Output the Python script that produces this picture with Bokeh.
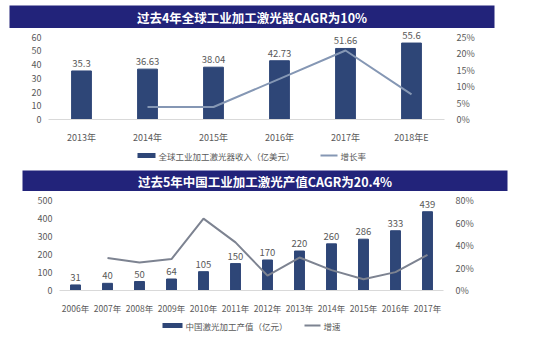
from bokeh.plotting import figure
from bokeh.models import (FactorRange, Range1d, LinearAxis, ColumnDataSource,
                          LabelSet, FixedTicker, PrintfTickFormatter)
from bokeh.core.properties import value
from bokeh.layouts import column
from bokeh.embed import file_html
from bokeh.resources import INLINE

# ---------------- data ----------------
title1 = "过去4年全球工业加工激光器CAGR为10%"
years1 = ["2013年", "2014年", "2015年", "2016年", "2017年", "2018年E"]
revenue1 = [35.3, 36.63, 38.04, 42.73, 51.66, 55.6]
revenue1_labels = ["35.3", "36.63", "38.04", "42.73", "51.66", "55.6"]
growth1_years = ["2014年", "2015年", "2016年", "2017年", "2018年E"]
growth1 = [3.8, 3.8, 12.3, 20.9, 7.6]  # %
legend1_bar = "全球工业加工激光器收入（亿美元）"
legend1_line = "增长率"

title2 = "过去5年中国工业加工激光产值CAGR为20.4%"
years2 = ["2006年", "2007年", "2008年", "2009年", "2010年", "2011年",
          "2012年", "2013年", "2014年", "2015年", "2016年", "2017年"]
output2 = [31, 40, 50, 64, 105, 150, 170, 220, 260, 286, 333, 439]
output2_labels = ["31", "40", "50", "64", "105", "150", "170", "220", "260", "286", "333", "439"]
growth2_years = years2[1:]
growth2 = [29.0, 25.0, 28.0, 64.1, 42.9, 13.3, 29.4, 18.2, 10.0, 16.4, 31.8]  # %
legend2_bar = "中国激光加工产值（亿元）"
legend2_line = "增速"

left_ticks1 = [0, 10, 20, 30, 40, 50, 60]
right_ticks1 = [0, 5, 10, 15, 20, 25]
left_ticks2 = [0, 100, 200, 300, 400, 500]
right_ticks2 = [0, 20, 40, 60, 80]

# ---------------- style ----------------
FONT = "Noto Sans CJK SC"
BANNER = "#22237a"
BAR = "#2e4677"
TXT = "#595959"
LINE1 = "#8597b4"
LINE2 = "#7d8391"
W = 557


def strip(h):
    s = figure(width=W, height=h, x_range=Range1d(0, W), y_range=Range1d(h, 0),
               x_axis_type=None, y_axis_type=None, output_backend="svg",
               toolbar_location=None, min_border=0, frame_align=False)
    s.outline_line_color = None
    return s


def banner(title, h, x0, x1, y0, y1):
    b = strip(h)
    b.quad(left=[x0], right=[x1], top=[y0], bottom=[y1], fill_color=BANNER,
           line_color=None)
    b.text(x=[(x0 + x1) / 2], y=[(y0 + y1) / 2 + 0.5], text=[title],
           text_align="center", text_baseline="middle", text_color="white",
           text_font=value(FONT), text_font_style="bold", text_font_size="12.5px")
    return b


def legend_strip(h, yc, bar_x, bar_label, line_x, line_label, line_col):
    s = strip(h)
    s.quad(left=[bar_x[0]], right=[bar_x[1]], top=[yc - 2.5], bottom=[yc + 2.5],
           fill_color=BAR, line_color=None)
    s.text(x=[bar_x[1] + 3], y=[yc], text=[bar_label], text_baseline="middle",
           text_color=TXT, text_font=value(FONT), text_font_size="8.5px")
    s.segment(x0=[line_x[0]], y0=[yc], x1=[line_x[1]], y1=[yc],
              line_color=line_col, line_width=2)
    s.text(x=[line_x[1] + 3], y=[yc], text=[line_label], text_baseline="middle",
           text_color=TXT, text_font=value(FONT), text_font_size="8.5px")
    return s


def chart(years, vals, labels, gyears, gvals, lticks, rticks,
          ymax, rmax, h, fl, fr, fb, bar_w, line_col, xfs):
    p = figure(x_range=FactorRange(*years, range_padding=0), y_range=Range1d(0, ymax),
               width=W, height=h, output_backend="svg", toolbar_location=None,
               min_border_left=fl, min_border_right=fr, min_border_top=1,
               min_border_bottom=fb, frame_align=False)
    p.extra_y_ranges = {"pct": Range1d(0, rmax)}
    p.yaxis.ticker = FixedTicker(ticks=lticks)
    p.yaxis.axis_line_color = None
    p.yaxis.major_label_text_font_size = "9px"
    p.yaxis.major_label_standoff = 1
    rax = LinearAxis(y_range_name="pct", ticker=FixedTicker(ticks=rticks),
                     formatter=PrintfTickFormatter(format="%d%%"))
    rax.axis_line_color = None
    rax.major_label_text_font_size = "9px"
    rax.major_label_standoff = 6
    p.add_layout(rax, "right")
    p.xaxis.axis_line_color = "#d9d9d9"
    p.xaxis.major_label_text_font_size = xfs
    p.xaxis.major_label_standoff = 5
    for ax in p.axis:
        ax.major_tick_line_color = None
        ax.minor_tick_line_color = None
        ax.major_label_text_color = TXT
        ax.major_label_text_font = FONT
    p.xgrid.grid_line_color = None
    p.ygrid.grid_line_color = None
    p.outline_line_color = None

    src = ColumnDataSource(dict(x=years, top=vals, lab=labels))
    p.vbar(x="x", top="top", width=bar_w, source=src, fill_color=BAR, line_color=BAR)
    p.line(x=gyears, y=gvals, y_range_name="pct", line_color=line_col, line_width=2)
    p.add_layout(LabelSet(x="x", y="top", text="lab", source=src, y_offset=4,
                          text_align="center", text_baseline="bottom",
                          text_font=value(FONT), text_font_size="9.5px",
                          text_color=TXT))
    return p


# top block: banner canvas 0..28, chart 28..146 (frame 29..125), legend 146..166
b1 = banner(title1, 28, 9, 494, 5, 28)
p1 = chart(years1, revenue1, revenue1_labels, growth1_years, growth1,
           left_ticks1, right_ticks1, 60 * 96 / 88, 25 * 96 / 88,
           118, 48, 113, 21, 0.3, LINE1, "9px")
l1 = legend_strip(20, 9, (137, 155), legend1_bar, (320, 337), legend1_line, LINE1)

# bottom block: banner 166..191, chart 191..316 (frame 192..295), legend 316..354
b2 = banner(title2, 25, 22, 507, 4, 25)
p2 = chart(years2, output2, output2_labels, growth2_years, growth2,
           left_ticks2, right_ticks2, 500 * 103 / 94.3, 80 * 103 / 94.3,
           125, 59, 114, 21, 0.31, LINE2, "8.5px")
l2 = legend_strip(38, 9, (162, 182), legend2_bar, (304, 320), legend2_line, LINE2)

layout = column(b1, p1, l1, b2, p2, l2, spacing=0)
open("out.html", "w").write(file_html(layout, INLINE))
